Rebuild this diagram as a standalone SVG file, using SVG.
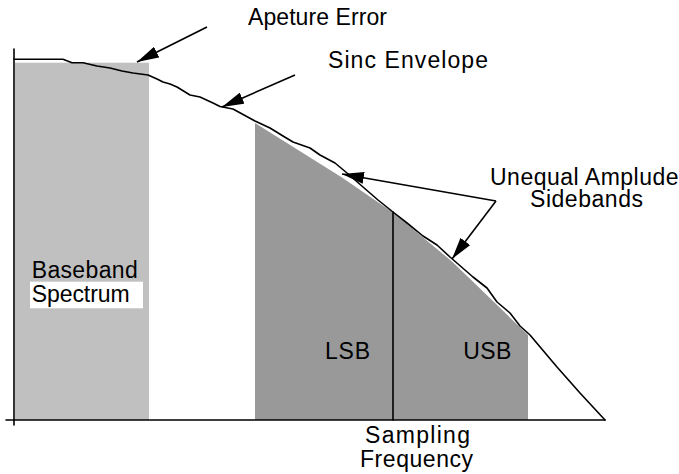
<svg xmlns="http://www.w3.org/2000/svg" width="679" height="474" viewBox="0 0 679 474">
  <style>
    .lbl { font-family: "Liberation Sans", Arial, sans-serif; font-size: 23px; fill: #000; }
    .ln { fill: none; stroke: #000; stroke-width: 1.6; stroke-linejoin: round; stroke-linecap: round; }
    .conn { fill: none; stroke: #000; stroke-width: 1.6; }
  </style>
  <defs>
    <marker id="head" markerUnits="userSpaceOnUse" viewBox="0 0 22 12" refX="22" refY="6" markerWidth="22" markerHeight="12" orient="auto">
      <path d="M0,0 L22,6 L0,12 z" fill="#000"/>
    </marker>
  </defs>
  <rect width="679" height="474" fill="#fff"/>

  <g id="baseband">
    <rect x="15" y="62.7" width="134" height="357.3" fill="#c0c0c0"/>
    <rect x="30" y="281.7" width="113" height="26.6" fill="#fff"/>
    <text class="lbl" x="31.7" y="278.3" textLength="106" lengthAdjust="spacing">Baseband</text>
    <text class="lbl" x="31.7" y="301.7" textLength="98" lengthAdjust="spacing">Spectrum</text>
  </g>

  <g id="sidebands">
    <path d="M255,123 L342,177.5 L393,212.5 L452,261.5 L528,335 L528,420 L255,420 Z" fill="#999999"/>
    <line x1="393" y1="212" x2="393" y2="420" class="ln"/>
    <text class="lbl" x="325" y="359" textLength="45" lengthAdjust="spacing">LSB</text>
    <text class="lbl" x="463.3" y="359" textLength="48" lengthAdjust="spacing">USB</text>
  </g>

  <g id="axes">
    <line x1="14" y1="49" x2="14" y2="425" class="ln"/>
    <line x1="6" y1="420" x2="605" y2="420" class="ln"/>
  </g>

  <g id="envelope">
    <polyline class="ln" points="14,59.3 63,59.3 72,62.7 83,62.7 97,66 110,68 122,71 133,73 148,75 157,79 163,82 170,84 177,87 190,95 200,97 213,103 220,106.5 233,109 255,121 270,128 283,136 293,142 310,148 320,155 335,163 347,173 363,187 378,200 393,212 407,223 423,236 437,245 450,257 473,277 487,288 497,302 510,313 520,326 530,335 557,367 580,393 605,420"/>
  </g>

  <g id="labels">
    <text class="lbl" x="248" y="25" textLength="139" lengthAdjust="spacing">Apeture Error</text>
    <text class="lbl" x="328" y="67.5" textLength="160" lengthAdjust="spacing">Sinc Envelope</text>
    <text class="lbl" x="490" y="185" letter-spacing="0.5">Unequal Amplude</text>
    <text class="lbl" x="530" y="206.7" textLength="113" lengthAdjust="spacing">Sidebands</text>
    <text class="lbl" x="365" y="443.3" textLength="105" lengthAdjust="spacing">Sampling</text>
    <text class="lbl" x="360" y="466.5" textLength="113" lengthAdjust="spacing">Frequency</text>
  </g>

  <g id="connectors">
    <line class="conn" x1="207" y1="27" x2="137" y2="62" marker-end="url(#head)"/>
    <line class="conn" x1="295" y1="75" x2="222" y2="107" marker-end="url(#head)"/>
    <line class="conn" x1="496" y1="201" x2="342" y2="174" marker-end="url(#head)"/>
    <line class="conn" x1="496" y1="201" x2="452" y2="259" marker-end="url(#head)"/>
  </g>
</svg>
